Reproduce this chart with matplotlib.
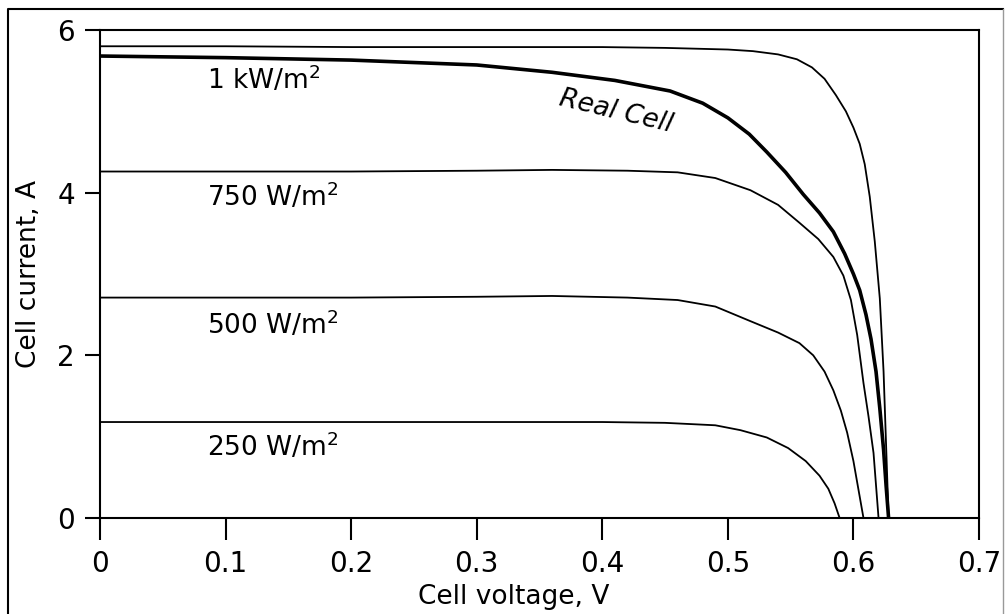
import matplotlib
matplotlib.use("Agg")
import matplotlib.pyplot as plt
from matplotlib.lines import Line2D

plt.rcParams['font.family'] = ['DejaVu Sans']

# I-V curves (voltage in V, current in A)
v_1000 = [0.0, 0.1, 0.2, 0.3, 0.4, 0.45, 0.5, 0.52, 0.54, 0.555, 0.567, 0.577, 0.586, 0.594, 0.6, 0.605, 0.609, 0.613, 0.617, 0.621, 0.624, 0.626, 0.628]
i_1000 = [5.80, 5.80, 5.79, 5.79, 5.79, 5.78, 5.76, 5.74, 5.70, 5.64, 5.54, 5.40, 5.20, 5.00, 4.80, 4.60, 4.35, 3.95, 3.40, 2.70, 1.80, 0.90, 0.0]

v_real = [0.0, 0.1, 0.2, 0.3, 0.36, 0.41, 0.454, 0.48, 0.5, 0.517, 0.531, 0.546, 0.56, 0.573, 0.584, 0.593, 0.6, 0.605, 0.61, 0.614, 0.618, 0.621, 0.624, 0.626, 0.628]
i_real = [5.68, 5.66, 5.63, 5.57, 5.48, 5.38, 5.25, 5.10, 4.92, 4.72, 4.50, 4.25, 3.98, 3.75, 3.52, 3.25, 3.00, 2.80, 2.50, 2.20, 1.80, 1.35, 0.84, 0.40, 0.0]

v_750 = [0.0, 0.1, 0.2, 0.3, 0.36, 0.42, 0.46, 0.49, 0.518, 0.54, 0.557, 0.572, 0.584, 0.592, 0.598, 0.603, 0.608, 0.612, 0.616, 0.620]
i_750 = [4.26, 4.26, 4.26, 4.27, 4.28, 4.27, 4.25, 4.18, 4.03, 3.85, 3.63, 3.43, 3.21, 2.98, 2.68, 2.25, 1.66, 1.25, 0.80, 0.0]

v_500 = [0.0, 0.1, 0.2, 0.3, 0.36, 0.42, 0.46, 0.49, 0.518, 0.54, 0.557, 0.568, 0.577, 0.584, 0.59, 0.595, 0.6, 0.604, 0.608]
i_500 = [2.71, 2.71, 2.71, 2.72, 2.73, 2.71, 2.68, 2.60, 2.42, 2.28, 2.15, 2.00, 1.80, 1.57, 1.32, 1.05, 0.70, 0.35, 0.0]

v_250 = [0.0, 0.1, 0.2, 0.3, 0.4, 0.45, 0.49, 0.51, 0.531, 0.548, 0.562, 0.573, 0.58, 0.585, 0.589]
i_250 = [1.18, 1.18, 1.18, 1.18, 1.18, 1.17, 1.14, 1.08, 0.99, 0.86, 0.70, 0.52, 0.36, 0.18, 0.0]

labels = ['1 kW/m$^2$', '750 W/m$^2$', '500 W/m$^2$', '250 W/m$^2$']
label_i = [5.39, 3.95, 2.37, 0.87]

fig = plt.figure(figsize=(10.05, 6.14), dpi=100)
ax = fig.add_axes([100 / 1005, 1 - 518 / 614, 879 / 1005, 488 / 614])

ax.plot(v_1000, i_1000, color='black', lw=1.3)
ax.plot(v_real, i_real, color='black', lw=2.6)
ax.plot(v_750, i_750, color='black', lw=1.3)
ax.plot(v_500, i_500, color='black', lw=1.3)
ax.plot(v_250, i_250, color='black', lw=1.3)

for lab, y in zip(labels, label_i):
    ax.text(0.085, y, lab, fontsize=19, ha='left', va='center')
ax.text(0.411, 5.0, 'Real Cell', fontsize=19, style='italic',
        rotation=-13.5, ha='center', va='center')

ax.set_xlim(0, 0.7)
ax.set_ylim(0, 6)
ax.set_xticks([0, 0.1, 0.2, 0.3, 0.4, 0.5, 0.6, 0.7])
ax.set_xticklabels(['0', '0.1', '0.2', '0.3', '0.4', '0.5', '0.6', '0.7'])
ax.set_yticks([0, 2, 4, 6])
ax.tick_params(axis='x', direction='out', length=16, width=1.5, pad=7, labelsize=20)
ax.tick_params(axis='y', direction='out', length=11, width=1.5, pad=7, labelsize=20)
for s in ax.spines.values():
    s.set_linewidth(1.5)

ax.set_xlabel('Cell voltage, V', fontsize=19)
ax.xaxis.set_label_coords((514 - 100) / 879, -0.135)
ax.set_ylabel('Cell current, A', fontsize=19)
ax.yaxis.set_label_coords(-(100 - 42) / 879, 0.5)

# outer frame around the figure
fx = [8 / 1005, 8 / 1005, 1003 / 1005, 1003 / 1005]
fy = [0.0, 1 - 9 / 614, 1 - 9 / 614, 0.0]
fig.add_artist(Line2D(fx[:3], fy[:3], transform=fig.transFigure, color='black', lw=1.5))
fig.add_artist(Line2D(fx[2:], fy[2:], transform=fig.transFigure, color='#999999', lw=1.0))

fig.savefig('out.png', dpi=100)
